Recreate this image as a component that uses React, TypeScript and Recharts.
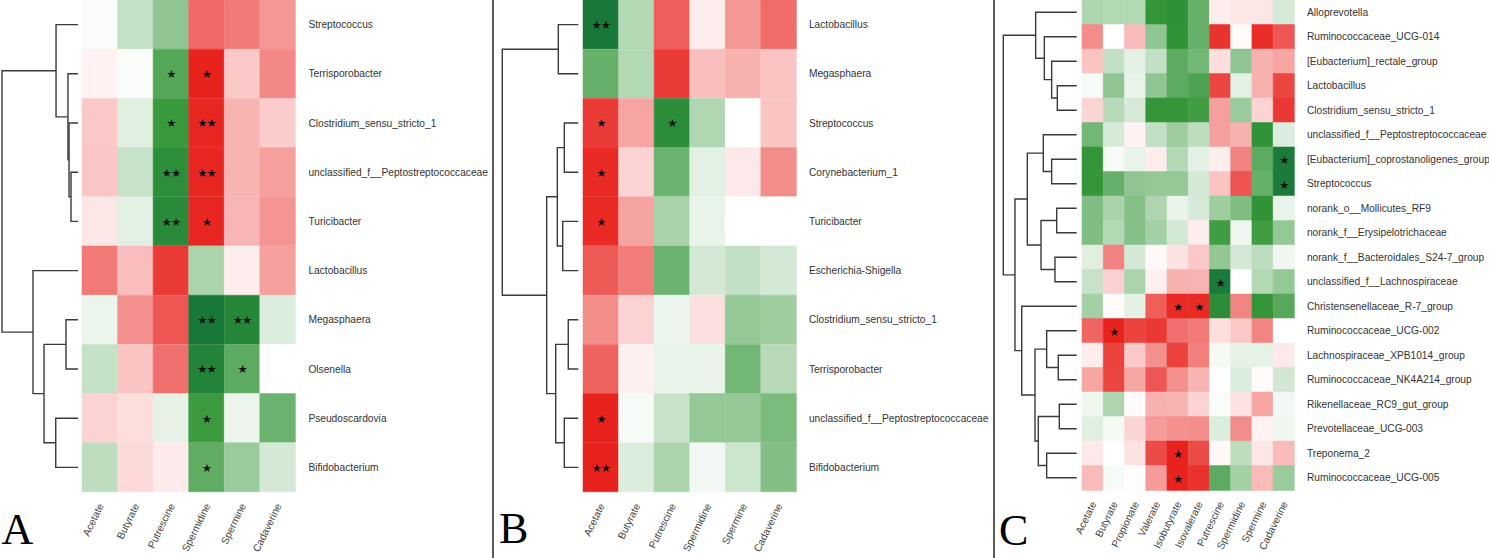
import React from "react"
import { Bar, BarChart, Cell, LabelList, Scatter, ScatterChart, XAxis, YAxis } from "recharts"

// ---- panel A / B columns ----
const colsAB = ["Acetate", "Butyrate", "Putrescine", "Spermidine", "Spermine", "Cadaverine"]
const colsC = [
  "Acetate", "Butyrate", "Propionate", "Valerate", "Isobutyrate",
  "Isovalerate", "Putrescine", "Spermidine", "Spermine", "Cadaverine",
]

// ---- panel A ----
const rowsA = [
  "Streptococcus", "Terrisporobacter", "Clostridium_sensu_stricto_1",
  "unclassified_f__Peptostreptococcaceae", "Turicibacter", "Lactobacillus",
  "Megasphaera", "Olsenella", "Pseudoscardovia", "Bifidobacterium",
]
const valuesA = [
  [-0.02, -0.23, -0.44, 0.68, 0.6, 0.47],
  [0.06, -0.02, -0.67, 1.0, 0.25, 0.54],
  [0.25, -0.12, -0.78, 0.98, 0.34, 0.23],
  [0.26, -0.22, -0.85, 0.98, 0.34, 0.43],
  [0.11, -0.11, -0.88, 0.98, 0.33, 0.48],
  [0.61, 0.3, 0.89, -0.33, 0.08, 0.43],
  [-0.08, 0.5, 0.77, -1.0, -0.9, -0.14],
  [-0.23, 0.27, 0.65, -0.93, -0.64, 0],
  [0.2, 0.15, -0.1, -0.77, -0.08, -0.58],
  [-0.26, 0.17, 0.09, -0.63, -0.4, -0.17],
]
const starsA = [
  [1, 2, "*"], [1, 3, "*"], [2, 2, "*"], [2, 3, "**"], [3, 2, "**"], [3, 3, "**"],
  [4, 2, "**"], [4, 3, "*"], [6, 3, "**"], [6, 4, "**"], [7, 3, "**"], [7, 4, "*"],
  [8, 3, "*"], [9, 3, "*"],
]
// merges: [child, child, height]; leaves are 0..n-1, new nodes n, n+1, ...
const treeA = [
  [3, 4, 0.092], [2, 10, 0.118], [1, 11, 0.132], [0, 12, 0.289], [6, 7, 0.158],
  [8, 9, 0.293], [14, 15, 0.447], [5, 16, 0.592], [13, 17, 1],
]

// ---- panel B ----
const rowsB = [
  "Lactobacillus", "Megasphaera", "Streptococcus", "Corynebacterium_1", "Turicibacter",
  "Escherichia-Shigella", "Clostridium_sensu_stricto_1", "Terrisporobacter",
  "unclassified_f__Peptostreptococcaceae", "Bifidobacterium",
]
const valuesB = [
  [-1.0, -0.3, 0.73, 0.08, 0.47, 0.67],
  [-0.6, -0.3, 0.89, 0.29, 0.35, 0.27],
  [0.89, 0.41, -0.86, -0.31, 0, 0.27],
  [0.97, 0.2, -0.58, -0.11, 0.1, 0.52],
  [0.97, 0.42, -0.34, -0.09, 0, 0],
  [0.75, 0.59, -0.58, -0.17, -0.24, -0.17],
  [0.52, 0.2, -0.07, 0.14, -0.42, -0.38],
  [0.71, 0.07, -0.09, -0.09, -0.55, -0.28],
  [1.0, -0.03, -0.22, -0.42, -0.42, -0.52],
  [1.0, -0.14, -0.33, -0.05, -0.2, -0.49],
]
const starsB = [
  [0, 0, "**"], [2, 0, "*"], [2, 2, "*"], [3, 0, "*"], [4, 0, "*"], [8, 0, "*"], [9, 0, "**"],
]
const treeB = [
  [0, 1, 0.263], [2, 3, 0.184], [4, 5, 0.205], [11, 12, 0.276], [6, 7, 0.132],
  [8, 9, 0.184], [14, 15, 0.297], [13, 16, 0.416], [10, 17, 1],
]

// ---- panel C ----
const rowsC = [
  "Alloprevotella", "Ruminococcaceae_UCG-014", "[Eubacterium]_rectale_group", "Lactobacillus",
  "Clostridium_sensu_stricto_1", "unclassified_f__Peptostreptococcaceae",
  "[Eubacterium]_coprostanoligenes_group", "Streptococcus", "norank_o__Mollicutes_RF9",
  "norank_f__Erysipelotrichaceae", "norank_f__Bacteroidales_S24-7_group",
  "unclassified_f__Lachnospiraceae", "Christensenellaceae_R-7_group", "Ruminococcaceae_UCG-002",
  "Lachnospiraceae_XPB1014_group", "Ruminococcaceae_NK4A214_group", "Rikenellaceae_RC9_gut_group",
  "Prevotellaceae_UCG-003", "Treponema_2", "Ruminococcaceae_UCG-005",
]
const valuesC = [
  [-0.32, -0.3, -0.3, -0.8, -0.84, -0.6, 0.08, 0.11, 0.11, -0.16],
  [0.52, 0, 0.31, -0.44, -0.82, -0.6, 0.93, 0.02, 0.95, 0.77],
  [0.27, -0.24, -0.11, -0.24, -0.64, -0.55, 0.15, -0.44, 0.35, 0.41],
  [-0.03, -0.44, -0.09, -0.44, -0.64, -0.7, 0.84, -0.11, 0.35, 0.84],
  [0.19, -0.28, -0.16, -0.8, -0.8, -0.75, 0.43, -0.4, 0.19, 0.9],
  [-0.55, -0.16, 0.06, -0.24, -0.38, -0.26, 0.43, 0.35, -0.82, -0.14],
  [-0.8, -0.03, -0.09, 0.08, -0.3, -0.11, 0.08, 0.57, -0.64, -0.98],
  [-0.8, -0.6, -0.44, -0.42, -0.42, -0.17, 0.27, 0.78, -0.6, -0.98],
  [-0.5, -0.34, -0.48, -0.32, -0.09, -0.16, -0.38, -0.5, -0.82, -0.09],
  [-0.5, -0.3, -0.48, -0.36, -0.17, 0.08, -0.75, -0.06, -0.75, -0.42],
  [-0.12, 0.57, -0.17, 0.03, 0.13, 0.25, -0.43, -0.17, -0.26, -0.06],
  [-0.22, 0.21, -0.33, 0.07, 0.35, 0.34, -0.98, 0, -0.3, -0.42],
  [-0.36, 0.02, -0.11, 0.73, 0.97, 0.97, -0.86, 0.56, -0.8, -0.66],
  [0.7, 1.0, 0.86, 0.9, 0.66, 0.61, 0.15, 0.25, 0.56, 0],
  [0.08, 0.86, 0.25, 0.5, 0.86, 0.58, -0.04, -0.1, -0.1, 0.1],
  [0.41, 0.84, 0.41, 0.77, 0.5, 0.34, 0, -0.14, 0.02, -0.18],
  [-0.06, -0.32, 0.02, 0.35, 0.34, 0.2, -0.02, 0.13, 0.41, -0.05],
  [-0.12, -0.04, 0.19, 0.45, 0.5, 0.52, -0.14, 0.52, 0.06, -0.06],
  [0.1, 0, 0.13, 0.82, 1.0, 0.82, 0.03, -0.26, 0.11, 0.31],
  [0.31, -0.03, 0.01, 0.45, 1.0, 0.93, -0.64, -0.36, 0.31, -0.4],
]
const starsC = [
  [6, 9, "*"], [7, 9, "*"], [11, 6, "*"], [12, 4, "*"], [12, 5, "*"], [13, 1, "*"],
  [18, 4, "*"], [19, 4, "*"],
]
const treeC = [
  [3, 4, 0.264], [2, 20, 0.341], [1, 21, 0.441], [0, 22, 0.559], [6, 7, 0.341],
  [5, 24, 0.455], [8, 9, 0.272], [10, 11, 0.296], [26, 27, 0.486], [25, 28, 0.673],
  [14, 15, 0.251], [13, 30, 0.409], [16, 17, 0.237], [18, 19, 0.409], [32, 33, 0.523],
  [31, 34, 0.568], [12, 35, 0.749], [29, 36, 0.841], [23, 37, 1],
]

const CHART_H = 558
const PAD_LEFT = 24
const WHITE = [255, 255, 255]
const RED = [232, 35, 30]
const GREEN = [52, 150, 56]
const DARK_GREEN = [24, 120, 58]

function mix(a: number[], b: number[], t: number) {
  return `rgb(${a.map((v, i) => Math.round(v + (b[i] - v) * t)).join(",")})`
}

function heatColor(v: number) {
  if (v >= 0) return mix(WHITE, RED, Math.min(v, 1))
  const t = Math.min(-v, 1)
  if (t <= 0.8) return mix(WHITE, GREEN, t / 0.8)
  return mix(GREEN, DARK_GREEN, (t - 0.8) / 0.2)
}

function buildTable(rows: string[], cols: string[], stars: any[]) {
  const table = rows.map((name) => {
    const row: any = { name }
    cols.forEach((_, j) => {
      row[`c${j}`] = 1
      row[`s${j}`] = ""
    })
    return row
  })
  stars.forEach(([r, c, m]) => {
    table[r][`s${c}`] = m
  })
  return table
}

const StarLabel = (props: any) => {
  const { x, y, width, height, value } = props
  if (!value) return null
  return (
    <text
      x={Number(x) + Number(width) / 2}
      y={Number(y) + Number(height) / 2}
      dy="0.4em"
      textAnchor="middle"
      fontFamily="DejaVu Sans"
      fontSize={11.5}
      letterSpacing={-1}
      fill="#111"
    >
      {String(value).replace(/\*/g, "\u2605")}
    </text>
  )
}

type HeatProps = {
  rows: string[]
  cols: string[]
  values: number[][]
  stars: any[]
  left: number
  plotW: number
  plotH: number
  chartW: number
  labelGap: number
}

function Heatmap({ rows, cols, values, stars, left, plotW, plotH, chartW, labelGap }: HeatProps) {
  const data = buildTable(rows, cols, stars)

  const ColTick = (p: any) => {
    const x = Number(p.x) + 1
    const y = Number(p.y)
    const name = cols[Math.floor(p.payload.value)]
    return (
      <text x={x} y={y} dy="0.35em" textAnchor="end" fontSize={10.3} fill="#444" transform={`rotate(-64 ${x} ${y})`}>
        {name}
      </text>
    )
  }

  const RowTick = (p: any) => (
    <text x={p.x} y={p.y} dy="0.35em" textAnchor="start" fontSize={10.2} fill="#333">
      {p.payload.value}
    </text>
  )

  return (
    <div style={{ position: "absolute", left: left - PAD_LEFT, top: 0 }}>
      <BarChart
        layout="vertical"
        width={chartW + PAD_LEFT}
        height={CHART_H}
        data={data}
        margin={{ top: 0, right: 0, bottom: 0, left: PAD_LEFT }}
        barCategoryGap={0}
        barGap={0}
      >
        <XAxis
          type="number"
          domain={[0, cols.length]}
          ticks={cols.map((_, j) => j + 0.5)}
          interval={0}
          height={CHART_H - plotH}
          axisLine={false}
          tickLine={false}
          tickSize={0}
          tickMargin={12}
          tick={ColTick}
        />
        <YAxis
          type="category"
          dataKey="name"
          orientation="right"
          width={chartW - plotW}
          axisLine={false}
          tickLine={false}
          tickSize={0}
          tickMargin={labelGap}
          interval={0}
          tick={RowTick}
        />
        {cols.map((_, j) => (
          <Bar key={j} dataKey={`c${j}`} stackId="heat" isAnimationActive={false}>
            {values.map((row, i) => (
              <Cell key={i} fill={heatColor(row[j])} stroke={heatColor(row[j])} strokeWidth={0.5} />
            ))}
            <LabelList dataKey={`s${j}`} content={StarLabel} />
          </Bar>
        ))}
      </BarChart>
    </div>
  )
}

type TreeProps = {
  n: number
  merges: number[][]
  left: number
  width: number
  marginLeft: number
  marginRight: number
  plotH: number
}

function Dendrogram({ n, merges, left, width, marginLeft, marginRight, plotH }: TreeProps) {
  const nodes: { h: number; y: number }[] = []
  for (let i = 0; i < n; i++) nodes.push({ h: 0, y: i })
  merges.forEach(([a, b, h]) => nodes.push({ h, y: (nodes[a].y + nodes[b].y) / 2 }))

  const paths = merges.map(([a, b, h]) => [
    { x: nodes[a].h, y: nodes[a].y },
    { x: h, y: nodes[a].y },
    { x: h, y: nodes[b].y },
    { x: nodes[b].h, y: nodes[b].y },
  ])

  return (
    <div style={{ position: "absolute", left, top: 0 }}>
      <ScatterChart
        width={width}
        height={plotH}
        margin={{ top: 0, right: marginRight, bottom: 0, left: marginLeft }}
      >
        <XAxis type="number" dataKey="x" domain={[0, 1]} reversed hide height={0} />
        <YAxis type="number" dataKey="y" domain={[-0.5, n - 0.5]} reversed hide width={0} />
        {paths.map((p, i) => (
          <Scatter
            key={i}
            data={p}
            line={{ stroke: "#3a3a3a", strokeWidth: 1.4 }}
            shape={() => <g />}
            isAnimationActive={false}
          />
        ))}
      </ScatterChart>
    </div>
  )
}

export default function App() {
  return (
    <div
      style={{
        position: "absolute",
        left: 0,
        top: 0,
        width: 1489,
        height: 558,
        background: "#fff",
        overflow: "hidden",
        fontFamily: "'Liberation Sans', Arial, sans-serif",
      }}
    >
      <svg width={1489} height={558} style={{ position: "absolute", left: 0, top: 0 }}>
        <line x1={493} y1={0} x2={493} y2={558} stroke="#333" strokeWidth={1.6} />
        <line x1={994} y1={0} x2={994} y2={558} stroke="#333" strokeWidth={1.6} />
        <text x={1.5} y={544} fontFamily="'Liberation Serif', serif" fontSize={44} fill="#000">A</text>
        <text x={499} y={543} fontFamily="'Liberation Serif', serif" fontSize={44} fill="#000">B</text>
        <text x={999} y={545} fontFamily="'Liberation Serif', serif" fontSize={44} fill="#000">C</text>
      </svg>

      <Dendrogram n={rowsA.length} merges={treeA} left={0} width={80} marginLeft={2} marginRight={2} plotH={492} />
      <Heatmap rows={rowsA} cols={colsAB} values={valuesA} stars={starsA} left={82.3} plotW={213.4} plotH={492} chartW={410.7} labelGap={13} />

      <Dendrogram n={rowsB.length} merges={treeB} left={500} width={80} marginLeft={2.3} marginRight={1.7} plotH={492} />
      <Heatmap rows={rowsB} cols={colsAB} values={valuesB} stars={starsB} left={583.3} plotW={213.4} plotH={492} chartW={409.7} labelGap={12.5} />

      <Dendrogram n={rowsC.length} merges={treeC} left={1001} width={78} marginLeft={2.3} marginRight={2.3} plotH={490} />
      <Heatmap rows={rowsC} cols={colsC} values={valuesC} stars={starsC} left={1082.3} plotW={212.4} plotH={490} chartW={406.7} labelGap={12.5} />
    </div>
  )
}
